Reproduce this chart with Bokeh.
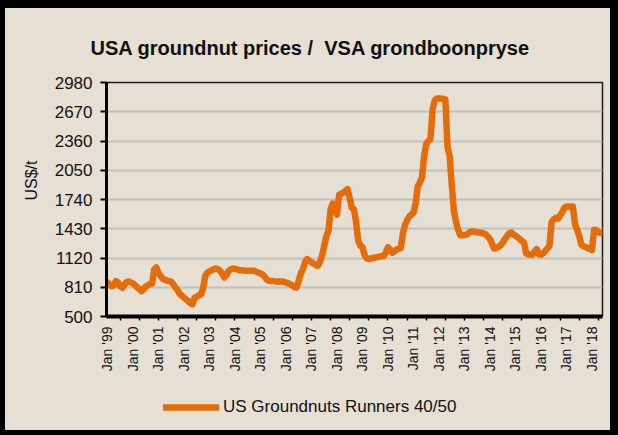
import math
from bokeh.plotting import figure
from bokeh.layouts import column
from bokeh.models import (Range1d, FixedTicker, Title, Legend, LegendItem,
                          GlobalInlineStyleSheet)
from bokeh.embed import file_html
from bokeh.resources import INLINE

# ---- data (US$/t, monthly, Jan 1999 .. May 2018) ----
p1999 = [860, 840, 820, 830, 875, 860, 820, 805, 840, 865, 870, 860]
p2000 = [850, 830, 810, 790, 768, 790, 818, 830, 846, 850, 1000, 1020]
p2001 = [960, 930, 900, 889, 880, 874, 870, 840, 804, 780, 740, 720]
p2002 = [700, 680, 665, 640, 630, 700, 710, 725, 735, 800, 930, 965]
p2003 = [980, 990, 1000, 1009, 1000, 985, 950, 913, 940, 984, 1000, 1009]
p2004 = [1005, 1000, 991, 990, 988, 985, 985, 984, 984, 984, 975, 965]
p2005 = [956, 945, 920, 890, 878, 875, 875, 872, 871, 871, 870, 868]
p2006 = [860, 850, 843, 830, 810, 807, 878, 960, 1002, 1080, 1108, 1090]
p2007 = [1073, 1060, 1045, 1038, 1080, 1150, 1250, 1350, 1410, 1640, 1697, 1650]
p2008 = [1580, 1790, 1800, 1814, 1830, 1850, 1750, 1650, 1637, 1500, 1300, 1250]
p2009 = [1235, 1150, 1115, 1113, 1115, 1120, 1125, 1130, 1135, 1138, 1140, 1180]
p2010 = [1233, 1210, 1175, 1190, 1210, 1219, 1225, 1380, 1470, 1520, 1560, 1580]
p2011 = [1600, 1700, 1880, 1920, 1975, 2200, 2330, 2360, 2380, 2700, 2790, 2810]
p2012 = [2810, 2810, 2805, 2800, 2300, 2200, 1900, 1620, 1500, 1420, 1360, 1360]
p2013 = [1365, 1368, 1385, 1400, 1400, 1398, 1393, 1390, 1385, 1380, 1370, 1345]
p2014 = [1322, 1270, 1220, 1225, 1240, 1255, 1285, 1320, 1350, 1380, 1390, 1370]
p2015 = [1355, 1340, 1320, 1300, 1285, 1170, 1160, 1155, 1155, 1190, 1214, 1160]
p2016 = [1155, 1170, 1195, 1220, 1250, 1500, 1530, 1545, 1535, 1570, 1605, 1650]
p2017 = [1665, 1665, 1665, 1665, 1480, 1420, 1350, 1260, 1245, 1235, 1225, 1215]
p2018 = [1205, 1420, 1415, 1395, 1385]

prices = (p1999 + p2000 + p2001 + p2002 + p2003 + p2004 + p2005 + p2006 + p2007
          + p2008 + p2009 + p2010 + p2011 + p2012 + p2013 + p2014 + p2015
          + p2016 + p2017 + p2018)
dates = [1999 + i / 12 for i in range(len(prices))]

years = list(range(1999, 2019))
year_labels = ["Jan '%02d" % (y % 100) for y in years]
y_ticks = [500, 810, 1120, 1430, 1740, 2050, 2360, 2670, 2980]

title_text = "USA groundnut prices / \u00a0VSA grondboonpryse"
y_title = "US$/t"
series_name = "US Groundnuts Runners 40/50"

ORANGE = "#e46c0a"
BG = "#e6dfd3"
FONT = "Liberation Sans"

p = figure(frame_width=496, frame_height=234, output_backend="svg",
           toolbar_location=None,
           x_range=Range1d(1998.961, 2018.412), y_range=Range1d(500, 2980),
           min_border_left=101, min_border_right=8, min_border_top=74,
           min_border_bottom=70)
p.background_fill_color = BG
p.border_fill_color = BG
p.outline_line_color = "#1a1a1a"
p.outline_line_width = 1.5

r = p.line(dates, prices, line_color=ORANGE, line_width=6.5,
           line_cap="round", line_join="round")

# x axis
xa = p.xaxis[0]
minor = [1999 + (6 + 9 * k) / 12 for k in range(26) if (6 + 9 * k) <= 232]
xa.ticker = FixedTicker(ticks=years, minor_ticks=minor)
xa.major_label_overrides = {y: l for y, l in zip(years, year_labels)}
xa.major_label_orientation = math.pi / 2
xa.major_label_text_font = FONT
xa.major_label_text_font_size = "14px"
xa.major_label_text_color = "#111111"
xa.major_label_standoff = 6
xa.major_tick_out = 0
xa.major_tick_in = 0
xa.minor_tick_out = 4
xa.minor_tick_in = 0
xa.minor_tick_line_color = "black"
xa.minor_tick_line_width = 1.5
xa.axis_line_color = "black"
xa.axis_line_width = 4

# y axis
ya = p.yaxis[0]
ya.ticker = FixedTicker(ticks=y_ticks)
ya.major_label_text_font = FONT
ya.major_label_text_font_size = "17px"
ya.major_label_text_color = "#111111"
ya.major_label_standoff = 8
ya.major_tick_out = 6
ya.major_tick_in = 0
ya.major_tick_line_color = "black"
ya.major_tick_line_width = 2
ya.minor_tick_out = 0
ya.minor_tick_in = 0
ya.axis_line_color = "black"
ya.axis_line_width = 3

p.xgrid.visible = False
p.ygrid.grid_line_color = "#c2c0bc"
p.ygrid.grid_line_width = 2
p.ygrid.ticker = FixedTicker(ticks=y_ticks)

# chart title
p.title = Title(text=title_text, align="left", offset=-16, standoff=48,
                text_font=FONT, text_font_size="20px", text_font_style="bold",
                text_color="#111111")

# y axis title
p.add_layout(Title(text=y_title, align="left", offset=116, standoff=23,
                   text_font=FONT, text_font_size="16px",
                   text_font_style="normal", text_color="#111111"), "left")

# legend strip below the chart (its series lies outside the strip's view)
leg = figure(width=605, height=44, output_backend="svg", toolbar_location=None,
             x_axis_type=None, y_axis_type=None, min_border=0,
             x_range=Range1d(0, 1), y_range=Range1d(0, 1))
leg.background_fill_color = BG
leg.border_fill_color = BG
leg.outline_line_color = None
swatch = leg.line(dates, prices, line_color=ORANGE, line_width=6.5,
                  line_cap="round", line_join="round")
legend = Legend(items=[LegendItem(label=series_name, renderers=[swatch])],
                location=(57, 13), orientation="horizontal",
                glyph_width=56, glyph_height=20, label_height=20,
                label_standoff=4, padding=0, margin=0, spacing=0,
                label_text_font=FONT, label_text_font_size="17px",
                label_text_color="#111111",
                background_fill_alpha=0, border_line_alpha=0)
leg.add_layout(legend, "center")

page = column(p, leg, spacing=0,
              styles={"margin-left": "5px", "margin-top": "8px",
                      "background-color": BG},
              stylesheets=[GlobalInlineStyleSheet(
                  css="html, body { background: #000; }")])

open("out.html", "w").write(file_html(page, INLINE))
